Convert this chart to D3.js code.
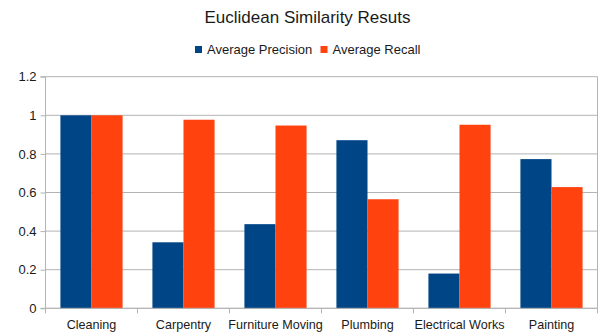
<!DOCTYPE html>
<html><head><meta charset="utf-8">
<script src="https://cdn.jsdelivr.net/npm/d3@7"></script>
<style>body{margin:0;background:#fff}svg{display:block}text{font-family:"Liberation Sans",Arial,sans-serif;fill:#1a1a1a}</style>
</head><body><svg id="c" width="600" height="336"></svg>
<script>
const categories = ["Cleaning","Carpentry","Furniture Moving","Plumbing","Electrical Works","Painting"];
const seriesNames = ["Average Precision","Average Recall"];
const precision = [1.0,0.342,0.436,0.871,0.18,0.773];
const recall = [1.0,0.977,0.947,0.565,0.951,0.628];
const yTicks = [0,0.2,0.4,0.6,0.8,1,1.2];
const colors = ["#004586","#ff420e"];

const svg = d3.select("#c");
const m = {l:45.5,r:2.5,t:76.7,b:27.7};
const W = 600, H = 336;
const x = d3.scaleBand().domain(categories).range([m.l, W-m.r]).paddingInner(0).paddingOuter(0);
const x1 = d3.scaleBand().domain(seriesNames).range([0, x.bandwidth()]).paddingInner(0).paddingOuter(0.48);
const y = d3.scaleLinear().domain([0,1.2]).range([H-m.b, m.t]);

// gridlines
svg.append("g").selectAll("line").data(yTicks).join("line")
  .attr("x1",m.l).attr("x2",W-m.r).attr("y1",d=>y(d)).attr("y2",d=>y(d))
  .attr("stroke","#b3b3b3").attr("stroke-width",1);
svg.append("line").attr("x1",W-m.r).attr("x2",W-m.r).attr("y1",m.t).attr("y2",y(0)).attr("stroke","#b3b3b3");

const data = categories.map((c,i)=>({c, vals:[precision[i],recall[i]]}));
svg.append("g").selectAll("g").data(data).join("g")
  .attr("transform",d=>`translate(${x(d.c)},0)`)
  .selectAll("rect").data(d=>d.vals.map((v,j)=>({v,j}))).join("rect")
  .attr("x",d=>x1(seriesNames[d.j])).attr("width",x1.bandwidth())
  .attr("y",d=>y(d.v)).attr("height",d=>y(0)-y(d.v))
  .attr("fill",d=>colors[d.j]);

// y axis
const ya = svg.append("g").attr("transform",`translate(${m.l},0)`)
  .call(d3.axisLeft(y).tickValues(yTicks).tickSize(5).tickPadding(4).tickFormat(d=>d3.format("")(d)));
ya.select(".domain").attr("stroke","#b3b3b3").attr("d",`M-5,${y(1.2)}H0V${y(0)}H-5`);
ya.selectAll(".tick line").attr("stroke","#b3b3b3");
ya.selectAll("text").style("font-size","13px").attr("fill","#1a1a1a").attr("font-family","Liberation Sans, Arial, sans-serif");

// x axis
const xa = svg.append("g").attr("transform",`translate(0,${y(0)})`)
  .call(d3.axisBottom(x).tickSize(0).tickPadding(12));
xa.select(".domain").attr("stroke","#b3b3b3").attr("d",`M${m.l},0H${W-m.r}`);
xa.selectAll("text").style("font-size","12.6px").attr("fill","#1a1a1a").attr("font-family","Liberation Sans, Arial, sans-serif");
const bounds = categories.map(c=>x(c)).concat([W-m.r]);
svg.append("g").selectAll("line").data(bounds).join("line")
  .attr("x1",d=>d).attr("x2",d=>d).attr("y1",y(0)).attr("y2",y(0)+5).attr("stroke","#b3b3b3");

// title
svg.append("text").attr("x",307.5).attr("y",23).attr("text-anchor","middle").style("font-size","17px").text("Euclidean Similarity Resuts");

// legend
const lg = svg.append("g");
const lx = [195, 320.5];
seriesNames.forEach((s,i)=>{
  lg.append("rect").attr("x",lx[i]).attr("y",46).attr("width",7).attr("height",7).attr("fill",colors[i]);
  lg.append("text").attr("x",lx[i]+12).attr("y",54).style("font-size","13px").text(s);
});
</script></body></html>
